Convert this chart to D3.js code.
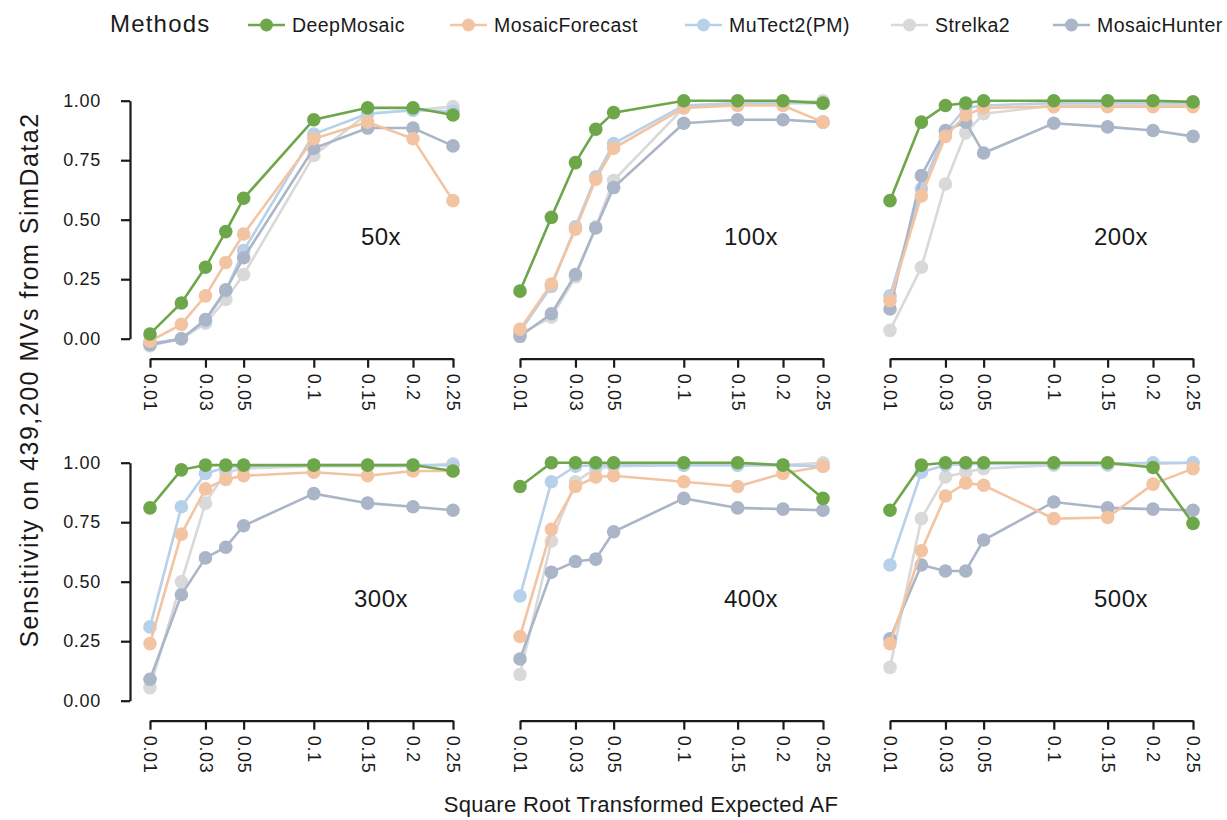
<!DOCTYPE html>
<html>
<head>
<meta charset="utf-8">
<script src="https://cdn.jsdelivr.net/npm/d3@7"></script>
<style>
  html, body { margin: 0; padding: 0; background: #fff; }
  svg { display: block; font-family: "Liberation Sans", Arial, sans-serif; }
</style>
</head>
<body>
<svg id="chart" width="1227" height="820"></svg>
<script>
// ---------- data ----------
const depths = ["50x", "100x", "200x", "300x", "400x", "500x"];
const afLevels = [0.01, 0.02, 0.03, 0.04, 0.05, 0.1, 0.15, 0.2, 0.25];
const afTicks = [0.01, 0.03, 0.05, 0.1, 0.15, 0.2, 0.25];
const afTickLabels = ["0.01", "0.03", "0.05", "0.1", "0.15", "0.2", "0.25"];
const yTicks = [0, 0.25, 0.5, 0.75, 1];
const methods = ["DeepMosaic", "MosaicForecast", "MuTect2(PM)", "Strelka2", "MosaicHunter"];
const methodColors = ["#6ea64a", "#f3c4a2", "#b7d1ea", "#d9d9d9", "#aab6c8"];

// one row per depth (50x..500x), one value per AF level
const deepMosaic = [
  [0.02, 0.15, 0.30, 0.45, 0.59, 0.92, 0.97, 0.97, 0.94],
  [0.20, 0.51, 0.74, 0.88, 0.95, 1.00, 1.00, 1.00, 0.99],
  [0.58, 0.91, 0.98, 0.99, 1.00, 1.00, 1.00, 1.00, 0.995],
  [0.81, 0.97, 0.99, 0.99, 0.99, 0.99, 0.99, 0.99, 0.965],
  [0.90, 1.00, 1.00, 1.00, 1.00, 1.00, 1.00, 0.99, 0.85],
  [0.80, 0.99, 1.00, 1.00, 1.00, 1.00, 1.00, 0.98, 0.745]
];
const mosaicForecast = [
  [-0.01, 0.06, 0.18, 0.32, 0.44, 0.84, 0.91, 0.84, 0.58],
  [0.04, 0.23, 0.46, 0.67, 0.80, 0.97, 0.98, 0.98, 0.91],
  [0.16, 0.60, 0.85, 0.94, 0.97, 0.975, 0.975, 0.975, 0.975],
  [0.24, 0.70, 0.89, 0.93, 0.945, 0.96, 0.945, 0.965, 0.965],
  [0.27, 0.72, 0.90, 0.94, 0.945, 0.92, 0.90, 0.955, 0.985],
  [0.24, 0.63, 0.86, 0.915, 0.905, 0.765, 0.77, 0.91, 0.975]
];
const mutect2 = [
  [-0.02, 0.00, 0.075, 0.20, 0.37, 0.86, 0.945, 0.96, 0.955],
  [0.03, 0.22, 0.47, 0.68, 0.82, 0.98, 0.99, 0.99, 0.99],
  [0.18, 0.63, 0.87, 0.97, 0.98, 0.99, 0.99, 0.99, 0.99],
  [0.31, 0.815, 0.955, 0.98, 0.985, 0.99, 0.99, 0.99, 0.99],
  [0.44, 0.92, 0.985, 0.99, 0.99, 0.99, 0.99, 0.99, 0.985],
  [0.57, 0.96, 0.99, 0.995, 0.995, 0.995, 0.995, 1.00, 1.00]
];
const strelka2 = [
  [-0.03, 0.00, 0.065, 0.165, 0.27, 0.77, 0.945, 0.96, 0.975],
  [0.02, 0.09, 0.26, 0.47, 0.665, 0.97, 0.99, 0.99, 1.00],
  [0.035, 0.30, 0.65, 0.865, 0.945, 0.98, 0.98, 0.98, 0.985],
  [0.055, 0.50, 0.83, 0.96, 0.975, 0.985, 0.985, 0.985, 0.995],
  [0.11, 0.67, 0.92, 0.975, 0.985, 0.99, 0.99, 0.99, 1.00],
  [0.14, 0.765, 0.94, 0.96, 0.975, 0.99, 0.99, 0.995, 1.00]
];
const mosaicHunter = [
  [-0.025, 0.00, 0.08, 0.205, 0.34, 0.80, 0.885, 0.885, 0.81],
  [0.01, 0.105, 0.27, 0.465, 0.635, 0.905, 0.92, 0.92, 0.91],
  [0.125, 0.685, 0.875, 0.91, 0.78, 0.905, 0.89, 0.875, 0.85],
  [0.09, 0.445, 0.60, 0.645, 0.735, 0.87, 0.83, 0.815, 0.80],
  [0.175, 0.54, 0.585, 0.595, 0.71, 0.85, 0.81, 0.805, 0.80],
  [0.26, 0.57, 0.545, 0.545, 0.675, 0.835, 0.81, 0.805, 0.80]
];
const methodValues = [deepMosaic, mosaicForecast, mutect2, strelka2, mosaicHunter];
// drawing order (back to front)
const drawOrder = [3, 2, 4, 1, 0];

// ---------- layout ----------
const svg = d3.select("#chart");
const panelX0 = [150, 520, 890];
const panelW = 303;
const rowY0 = [338.7, 700.7];   // y of value 0
const rowH = 238;
const axisColor = "#1a1a1a";
const textColor = "#1a1a1a";
const tickFont = 18;

depths.forEach((depth, i) => {
  const col = i % 3, row = Math.floor(i / 3);
  // square-root transformed AF axis
  const xs = d3.scaleLinear().domain([Math.sqrt(0.01), Math.sqrt(0.25)]).range([panelX0[col], panelX0[col] + panelW]);
  const xf = v => xs(Math.sqrt(v));
  const y = d3.scaleLinear().domain([0, 1]).range([rowY0[row], rowY0[row] - rowH]);

  const g = svg.append("g");

  // x axis
  const xAxisY = rowY0[row] + 20;
  const xAxis = d3.axisBottom(xs)
    .tickValues(afTicks.map(Math.sqrt))
    .tickFormat((d, k) => afTickLabels[k])
    .tickSizeOuter(0).tickSizeInner(9).tickPadding(6);
  const xg = g.append("g").attr("transform", `translate(0,${xAxisY})`).call(xAxis);
  xg.select(".domain").attr("stroke", axisColor).attr("stroke-width", 2.2);
  xg.selectAll(".tick line").attr("stroke", axisColor).attr("stroke-width", 2.2);
  xg.selectAll(".tick text")
    .attr("fill", textColor).attr("font-size", tickFont)
    .attr("font-family", "Liberation Sans, Arial, sans-serif")
    .attr("letter-spacing", 0.7)
    .attr("transform", "rotate(90)")
    .attr("x", 15).attr("y", 0).attr("dy", "0.35em")
    .attr("text-anchor", "start");

  // y axis on left column only
  if (col === 0) {
    const yAxis = d3.axisLeft(y).tickValues(yTicks).tickFormat(d3.format(".2f"))
      .tickSizeOuter(0).tickSizeInner(9).tickPadding(20);
    const yg = g.append("g").attr("transform", `translate(${panelX0[col] - 20},0)`).call(yAxis);
    yg.select(".domain").attr("stroke", axisColor).attr("stroke-width", 2.2);
    yg.selectAll(".tick line").attr("stroke", axisColor).attr("stroke-width", 2.2);
    yg.selectAll(".tick text").attr("fill", textColor).attr("font-size", tickFont)
      .attr("font-family", "Liberation Sans, Arial, sans-serif").attr("letter-spacing", 0.7);
  }

  // series
  drawOrder.forEach(m => {
    const vals = methodValues[m][i];
    const pts = afLevels.map((a, k) => [a, vals[k]]);
    const line = d3.line().x(d => xf(d[0])).y(d => y(d[1]));
    g.append("path").datum(pts)
      .attr("fill", "none").attr("stroke", methodColors[m]).attr("stroke-width", 2.6)
      .attr("d", line);
    g.selectAll(null).data(pts).enter().append("circle")
      .attr("cx", d => xf(d[0])).attr("cy", d => y(d[1]))
      .attr("r", 6.8).attr("fill", methodColors[m]);
  });

  // depth label
  g.append("text")
    .attr("x", panelX0[col] + 231).attr("y", rowY0[row] - 94)
    .attr("text-anchor", "middle").attr("font-size", 24).attr("letter-spacing", 0.5)
    .attr("fill", textColor).text(depth);
});

// axis titles
svg.append("text")
  .attr("x", 641).attr("y", 812)
  .attr("text-anchor", "middle").attr("font-size", 22).attr("letter-spacing", 0.3)
  .attr("fill", textColor).text("Square Root Transformed Expected AF");
svg.append("text")
  .attr("transform", "translate(38,380) rotate(-90)")
  .attr("text-anchor", "middle").attr("font-size", 25).attr("letter-spacing", 1.5)
  .attr("fill", textColor).text("Sensitivity on 439,200 MVs from SimData2");

// legend
const legend = svg.append("g");
legend.append("text").attr("x", 110).attr("y", 32).attr("font-size", 24).attr("letter-spacing", 1.2)
  .attr("fill", textColor).text("Methods");
const legendX = [248, 450, 685, 891, 1053];
methods.forEach((name, m) => {
  const lg = legend.append("g").attr("transform", `translate(${legendX[m]},25)`);
  lg.append("line").attr("x1", 0).attr("x2", 37).attr("y1", 0).attr("y2", 0)
    .attr("stroke", methodColors[m]).attr("stroke-width", 2.6);
  lg.append("circle").attr("cx", 18.5).attr("cy", 0).attr("r", 6.5).attr("fill", methodColors[m]);
  lg.append("text").attr("x", 44).attr("y", 0).attr("dy", "0.35em")
    .attr("font-size", 19.5).attr("letter-spacing", 0.45).attr("fill", textColor).text(name);
});
</script>
</body>
</html>
